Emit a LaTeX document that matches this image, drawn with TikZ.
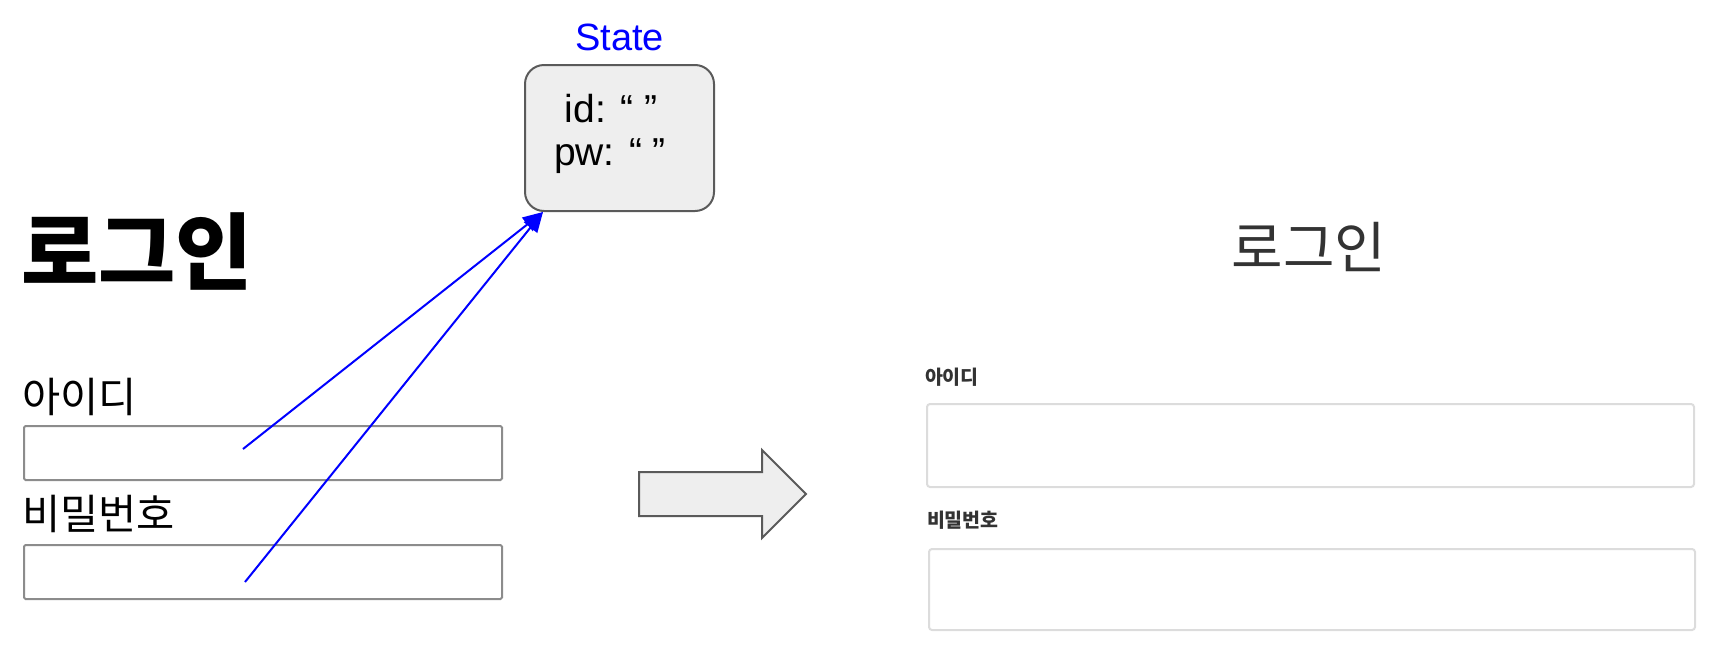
\documentclass[tikz,border=0pt]{standalone}
\usepackage{fontspec}
\setmainfont{Liberation Sans}
\newfontfamily\kr{Noto Sans CJK KR}
\usetikzlibrary{arrows.meta}
\definecolor{boxfill}{HTML}{EEEEEE}
\definecolor{boxline}{HTML}{5A5A5A}
\definecolor{inline}{HTML}{8C8C8C}
\definecolor{webline}{HTML}{DCDCDC}
\definecolor{webtext}{HTML}{333333}
\tikzset{
  txt/.style={inner sep=0pt, outer sep=0pt},
  inputbox/.style={draw=inline, line width=2pt, rounded corners=1.5pt, fill=white},
  webbox/.style={draw=webline, line width=2pt, rounded corners=3pt, fill=white},
  statebox/.style={draw=boxline, fill=boxfill, line width=2pt, rounded corners=19pt},
  bigarrow/.style={draw=boxline, fill=boxfill, line width=2pt},
  bindarrow/.style={draw={rgb,255:red,0;green,0;blue,255}, line width=2pt, -{Triangle[length=20pt,width=17pt]}}
}
\begin{document}
\begin{tikzpicture}[x=1pt,y=-1pt]
\useasboundingbox (0,0) rectangle (1720,659);
% left form
\node[txt, anchor=base west, font=\kr\bfseries\fontsize{84}{84}\selectfont] (ltitle) at (21,283) {로그인};
\node[txt, anchor=base west, font=\kr\fontsize{41.5}{41.5}\selectfont] (lidlab) at (22,412) {아이디};
\node[inputbox, anchor=north west, minimum width=478pt, minimum height=54pt] (lidbox) at (23,425) {};
\node[txt, anchor=base west, font=\kr\fontsize{41.5}{41.5}\selectfont] (lpwlab) at (22,529) {비밀번호};
\node[inputbox, anchor=north west, minimum width=478pt, minimum height=54pt] (lpwbox) at (23,544) {};
% state
\node[txt, anchor=base, font=\fontsize{38}{38}\selectfont, text={rgb,255:red,0;green,0;blue,255}] (statelab) at (619.5,50) {State};
\node[statebox, anchor=north west, minimum width=189pt, minimum height=146pt] (state) at (524,64) {};
\node[txt, anchor=base, font=\fontsize{39}{39}\selectfont] (idtxt) at (611,122) {id: “ ”};
\node[txt, anchor=base, font=\fontsize{39}{39}\selectfont] (pwtxt) at (610,165) {pw: “ ”};
% binding arrows
\coordinate (idpt) at (243,449);
\coordinate (pwpt) at (245,582);
\coordinate (tip) at (543,212);
\draw[bindarrow] (idpt) -- (tip);
\draw[bindarrow] (pwpt) -- (tip);
% big arrow
\draw[bigarrow] (639,472) -- (762,472) -- (762,450) -- (806,494) -- (762,538) -- (762,516) -- (639,516) -- cycle;
% right web form
\node[txt, anchor=base, font=\kr\fontsize{56}{56}\selectfont, text=webtext] (rtitle) at (1309,268) {로그인};
\node[txt, anchor=base west, font=\kr\bfseries\fontsize{19.5}{19.5}\selectfont, text=webtext] (ridlab) at (925,384) {아이디};
\node[webbox, anchor=north west, minimum width=767pt, minimum height=83pt] (ridbox) at (926,403) {};
\node[txt, anchor=base west, font=\kr\bfseries\fontsize{19.5}{19.5}\selectfont, text=webtext] (rpwlab) at (927,527) {비밀번호};
\node[webbox, anchor=north west, minimum width=766pt, minimum height=81pt] (rpwbox) at (928,548) {};
\end{tikzpicture}
\end{document}
